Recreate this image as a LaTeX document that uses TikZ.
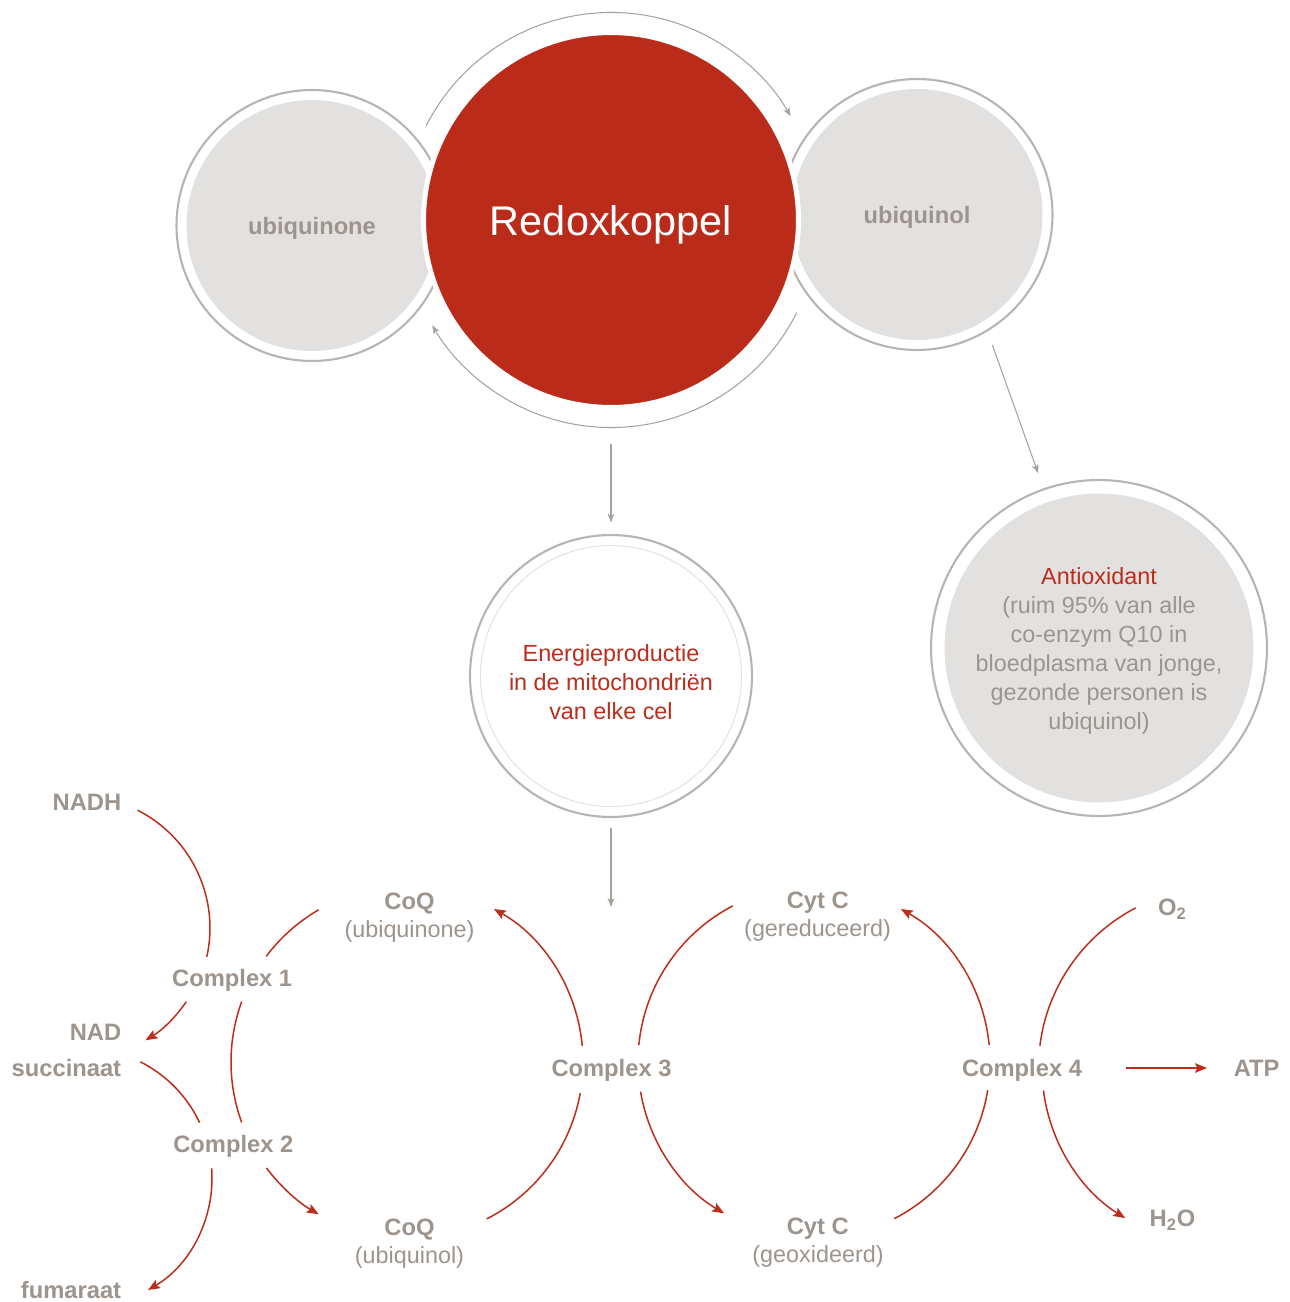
\documentclass[tikz,border=0pt]{standalone}
\usepackage{fontspec}
\setmainfont{Liberation Sans}
\usetikzlibrary{arrows.meta}
\definecolor{redfill}{HTML}{BA2B1A}
\definecolor{flowred}{HTML}{BC2D1C}
\definecolor{labelgray}{HTML}{9D948D}
\definecolor{discgray}{HTML}{E3E1DF}
\definecolor{ringgray}{HTML}{BAB4B0}
\definecolor{arrowgray}{HTML}{A8A29D}
\definecolor{thinring}{HTML}{E2DFDC}

\begin{document}
\begin{tikzpicture}[x=0.02cm, y=0.02cm,
	ring/.style={circle, draw=ringgray, line width=1.2pt, fill=white, inner sep=0pt},
	disc/.style={circle, fill=discgray, inner sep=0pt, text depth=0pt, text=labelgray, font=\fontsize{13.5}{16}\selectfont\bfseries},
	lbl/.style={inner sep=0pt, text height=9.7pt, text depth=0pt, text=labelgray, font=\fontsize{13.5}{16}\selectfont\bfseries},
	sub/.style={inner sep=0pt, text height=9.7pt, text depth=2.8pt, text=labelgray, font=\fontsize{13.3}{16}\selectfont},
	body/.style={align=center, inner sep=0pt, text=labelgray, font=\fontsize{13.3}{16.6}\selectfont},
	flow/.style={draw=flowred, line width=0.85pt},
	flowtip/.style={flow, -{Stealth[length=6.8pt, width=5.4pt, inset=1.3pt]}},
	redoxarrow/.style={draw=arrowgray, line width=0.6pt, -{Stealth[length=5pt, width=3.8pt, inset=1.2pt]}}]
		\fill[white] (0,0) rectangle (1290,-1302);
		\useasboundingbox (0,0) rectangle (1290,-1302);

		% redox couple
		\node[ring, minimum size=5.42cm] (quinone) at (312,-225.5) {};
		\node[disc, minimum size=5.02cm] (quinonetxt) at (quinone) {ubiquinone};
		\node[ring, minimum size=5.42cm] (quinol) at (917,-214.5) {};
		\node[disc, minimum size=5.02cm] (quinoltxt) at (quinol) {ubiquinol};
		\node[circle, fill=redfill, draw=white, line width=0.1cm, minimum size=7.5cm, inner sep=0pt,
			  text depth=0pt, text=white, font=\fontsize{23.6}{28}\selectfont] (redox) at (611,-220) {Redoxkoppel};
		\draw[redoxarrow] ([shift={(153:207.5)}]redox.center) arc[start angle=153, end angle=30, radius=207.5];
		\draw[redoxarrow] ([shift={(-26.5:207.5)}]redox.center) arc[start angle=-26.5, end angle=-149.5, radius=207.5];

		% functions
		\node[ring, minimum size=5.64cm] (energy) at (611,-676) {};
		\draw[thinring, line width=0.5pt] (energy.center) circle (130.5);
		\node[body, text=flowred] (energytxt) at (611,-682) {Energieproductie\\in de mitochondriën\\van elke cel};
		\node[ring, minimum size=6.72cm] (antiox) at (1099,-648) {};
		\node[disc, minimum size=6.18cm] at (antiox) {};
		\node[body] (antioxtxt) at (1099,-651) {\textcolor{flowred}{Antioxidant}\\(ruim 95\% van alle\\co-enzym Q10 in\\bloedplasma van jonge,\\gezonde personen is\\ubiquinol)};
		\coordinate (loopgap) at (611,-907);
		\draw[redoxarrow, shorten <=0.68cm, shorten >=0.23cm] (redox.south) -- (energy.north);
		\draw[redoxarrow, shorten <=0.2cm] (energy.south) -- (loopgap);
		\draw[redoxarrow] ([shift={(-60:150.7)}]quinol.center) -- ([shift={(109.2:185)}]antiox.center);

		% respiratory chain
		\node[lbl, anchor=east] (nadh) at (121.5,-801.5) {NADH};
		\node[lbl, anchor=east] (nad) at (121.5,-1031.5) {NAD};
		\node[lbl, anchor=east] (succ) at (121.5,-1067.5) {succinaat};
		\node[lbl, anchor=east] (fum) at (121.5,-1289.5) {fumaraat};
		\node[lbl] (cx1) at (232.2,-977.5) {Complex 1};
		\node[lbl] (cx2) at (233.3,-1144.2) {Complex 2};
		\node[lbl] (cx3) at (611.5,-1068) {Complex 3};
		\node[lbl] (cx4) at (1022,-1068) {Complex 4};
		\node[lbl] (coqa) at (409.5,-900.5) {CoQ};
		\node[sub] (coqasub) at (409.5,-931.4) {(ubiquinone)};
		\node[lbl] (coqb) at (409.5,-1226.5) {CoQ};
		\node[sub] (coqbsub) at (409.5,-1257.4) {(ubiquinol)};
		\node[lbl] (cyta) at (817.8,-900.2) {Cyt C};
		\node[sub] (cytasub) at (817.6,-930.8) {(gereduceerd)};
		\node[lbl] (cytb) at (817.8,-1225.5) {Cyt C};
		\node[sub] (cytbsub) at (818,-1256) {(geoxideerd)};
		\node[lbl] (oxy) at (1172.5,-907) {O\textsubscript{2}};
		\node[lbl] (atp) at (1256.7,-1068) {ATP};
		\node[lbl] (water) at (1172.5,-1218.3) {H\textsubscript{2}O};

		\coordinate (hubL1) at (78,-928);
		\coordinate (hubL2) at (82,-1178);
		\coordinate (hubA) at (407,-1062);
		\coordinate (hubB) at (814,-1062);
		\coordinate (hubC) at (1219,-1068);

		\draw[flow] ([shift={(63.2:132)}]hubL1) arc[start angle=63.2, end angle=-12.6, radius=132];
		\draw[flowtip] ([shift={(-34.3:131)}]hubL1) arc[start angle=-34.3, end angle=-59, radius=131];
		\draw[flow] ([shift={(63.3:130)}]hubL2) arc[start angle=63.3, end angle=25.2, radius=130];
		\draw[flowtip] ([shift={(4.3:130)}]hubL2) arc[start angle=4.3, end angle=-59.5, radius=130];

		\draw[flow] ([shift={(120.1:176)}]hubA) arc[start angle=120.1, end angle=143.1, radius=176];
		\draw[flow] ([shift={(159.9:176)}]hubA) arc[start angle=159.9, end angle=200.1, radius=176];
		\draw[flowtip] ([shift={(217:176)}]hubA) arc[start angle=217, end angle=239.9, radius=176];
		\draw[flow] ([shift={(-63.1:176)}]hubA) arc[start angle=-63.1, end angle=-10.2, radius=176];
		\draw[flowtip] ([shift={(5.3:176)}]hubA) arc[start angle=5.3, end angle=60.4, radius=176];

		\draw[flow] ([shift={(117.5:176)}]hubB) arc[start angle=117.5, end angle=174.5, radius=176];
		\draw[flowtip] ([shift={(189.7:176)}]hubB) arc[start angle=189.7, end angle=239.3, radius=176];
		\draw[flow] ([shift={(-62.9:176)}]hubB) arc[start angle=-62.9, end angle=-9.2, radius=176];
		\draw[flowtip] ([shift={(5.6:176)}]hubB) arc[start angle=5.6, end angle=60.4, radius=176];

		\draw[flow] ([shift={(117.5:180.5)}]hubC) arc[start angle=117.5, end angle=172.9, radius=180.5];
		\draw[flowtip] ([shift={(187.3:177)}]hubC) arc[start angle=187.3, end angle=238, radius=177];
		\draw[flowtip, shorten <=0.87cm, shorten >=0.53cm] (cx4.east) -- (atp.west);
	\end{tikzpicture}
\end{document}
